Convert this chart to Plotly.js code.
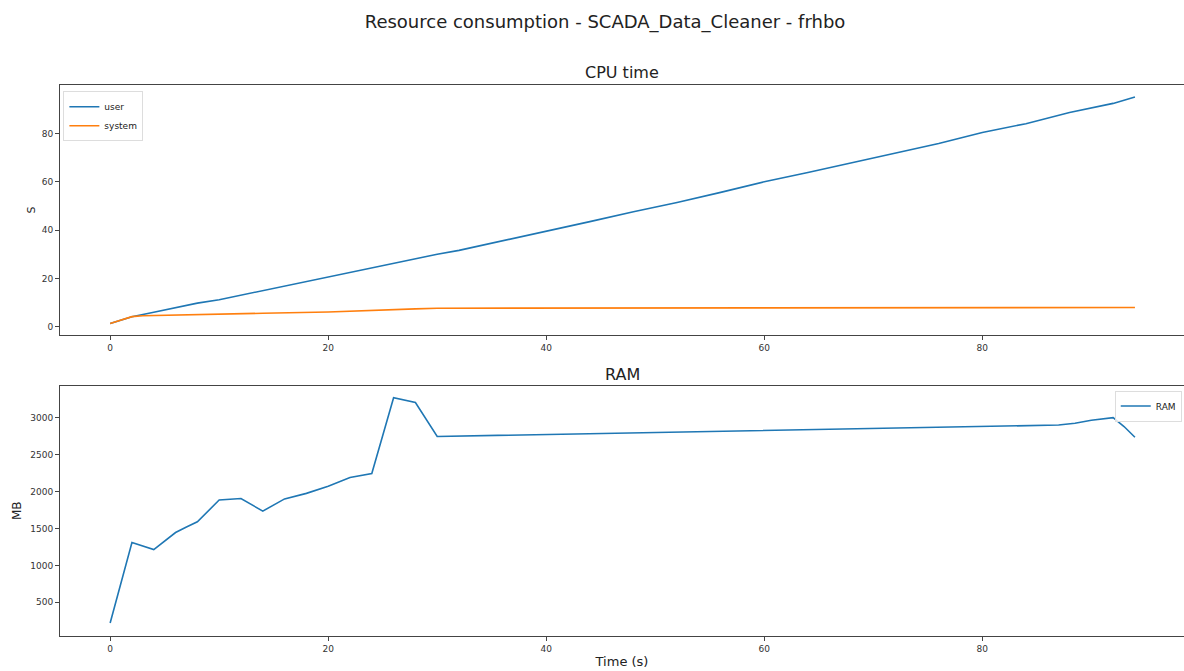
<!DOCTYPE html>
<html>
<head>
<meta charset="utf-8">
<script src="https://cdn.plot.ly/plotly-3.0.1.min.js"></script>
<style>html,body{margin:0;padding:0;background:#fff;overflow:hidden}</style>
</head>
<body>
<div id="chart" style="width:1184px;height:671px"></div>
<script>
// CPU time (s)
const userTime = [0,2,4,6,8,10,12,14,16,18,20,22,24,26,28,30,32,36,40,44,48,52,56,60,64,68,72,76,80,84,88,92,94];
const userCpu  = [1.4,4.2,6.0,7.9,9.8,11.2,13.1,14.9,16.9,18.8,20.5,22.3,24.3,26.2,28.2,30.0,31.6,35.5,39.6,43.5,47.6,51.4,55.6,60.0,63.8,67.8,71.6,75.8,80.4,84.0,88.6,92.4,95.0];
const sysTime  = [0,2,3,6,10,14,20,24,28,30,40,60,80,94];
const sysCpu   = [1.4,4.2,4.6,4.8,5.1,5.6,6.1,6.6,7.4,7.7,7.7,7.7,7.7,8.0];
// RAM (MB)
const ramTime  = [0,2,4,6,7,8,10,12,14,16,18,20,22,24,26,28,30,87,88.5,90,92,93,94];
const ramMB    = [220,1310,1215,1445,1520,1590,1885,1905,1735,1900,1975,2070,2190,2245,3270,3205,2745,2900,2925,2965,3000,2880,2735];

const FONT = 'DejaVu Sans, sans-serif';
const BLUE = '#1f77b4', ORANGE = '#ff7f0e';

const traces = [
  {x: userTime, y: userCpu, name: 'user', type: 'scatter', mode: 'lines',
   line: {color: BLUE, width: 1.6}, xaxis: 'x', yaxis: 'y', legend: 'legend'},
  {x: sysTime, y: sysCpu, name: 'system', type: 'scatter', mode: 'lines',
   line: {color: ORANGE, width: 1.6}, xaxis: 'x', yaxis: 'y', legend: 'legend'},
  {x: ramTime, y: ramMB, name: 'RAM', type: 'scatter', mode: 'lines',
   line: {color: BLUE, width: 1.6}, xaxis: 'x2', yaxis: 'y2', legend: 'legend2'}
];

const axCommon = {
  showgrid: false, zeroline: false, showline: true, mirror: true,
  linecolor: '#444', linewidth: 1, ticks: 'outside', ticklen: 4,
  tickcolor: '#444', tickfont: {family: FONT, size: 9, color: '#333'}
};

const layout = {
  width: 1184, height: 671,
  margin: {l: 60, r: 0, t: 0, b: 0},
  paper_bgcolor: '#fff', plot_bgcolor: '#fff',
  font: {family: FONT, color: '#222'},
  title: {text: 'Resource consumption - SCADA_Data_Cleaner - frhbo',
          font: {family: FONT, size: 18, color: '#222'},
          x: 0.511, xref: 'container', xanchor: 'center',
          y: 1 - 22/671, yref: 'container', yanchor: 'middle'},
  xaxis: Object.assign({}, axCommon, {domain: [0, 1], range: [-4.6, 98.5], anchor: 'y',
          tickvals: [0,20,40,60,80]}),
  yaxis: Object.assign({}, axCommon, {domain: [0.5007, 0.8733], range: [-3.4, 100], anchor: 'x',
          tickvals: [0,20,40,60,80],
          title: {text: 'S', font: {family: FONT, size: 11, color: '#222'}, standoff: 3}}),
  xaxis2: Object.assign({}, axCommon, {domain: [0, 1], range: [-4.6, 98.5], anchor: 'y2',
          tickvals: [0,20,40,60,80],
          title: {text: 'Time (s)', font: {family: FONT, size: 13, color: '#222'}, standoff: 4}}),
  yaxis2: Object.assign({}, axCommon, {domain: [0.0526, 0.4252], range: [48, 3433], anchor: 'x2',
          tickvals: [500,1000,1500,2000,2500,3000],
          title: {text: 'MB', font: {family: FONT, size: 12, color: '#222'}, standoff: 6}}),
  legend: {x: 0.003, y: 0.864, xanchor: 'left', yanchor: 'top',
           bgcolor: 'rgba(255,255,255,0.8)', bordercolor: '#ddd', borderwidth: 1,
           font: {family: FONT, size: 9, color: '#222'}, tracegroupgap: 0, itemwidth: 30},
  legend2: {x: 0.998, y: 0.418, xanchor: 'right', yanchor: 'top',
           bgcolor: 'rgba(255,255,255,0.8)', bordercolor: '#ddd', borderwidth: 1,
           font: {family: FONT, size: 9, color: '#222'}, itemwidth: 30},
  annotations: [
    {text: 'CPU time', x: 0.5, xref: 'paper', y: 0.8733, yref: 'paper', yanchor: 'bottom',
     yshift: 1, showarrow: false, font: {family: FONT, size: 16, color: '#222'}},
    {text: 'RAM', x: 0.5, xref: 'paper', y: 0.4252, yref: 'paper', yanchor: 'bottom',
     yshift: 0, showarrow: false, font: {family: FONT, size: 16, color: '#222'}}
  ],
  showlegend: true
};

Plotly.newPlot('chart', traces, layout, {displayModeBar: false, staticPlot: true});
</script>
</body>
</html>
